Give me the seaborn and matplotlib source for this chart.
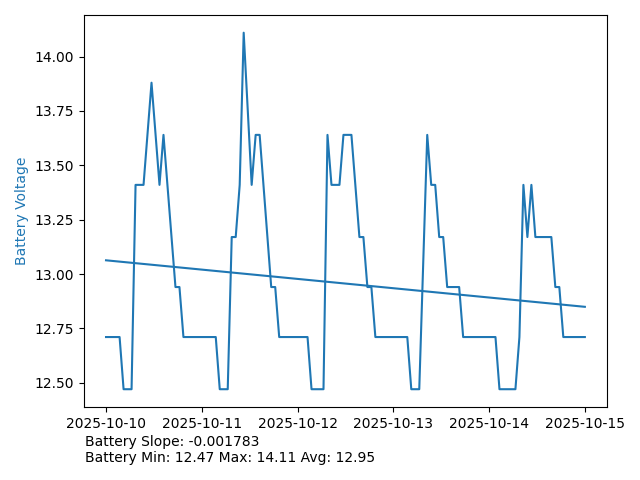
import numpy as np
import pandas as pd
import matplotlib
matplotlib.use("Agg")
import matplotlib.pyplot as plt
import seaborn as sns

# battery readings, hours after 2025-10-10 00:00
hours = [0, 3.4, 4.4, 6.4, 7.4, 9.4, 11.4, 13.4, 14.4, 17.4, 18.4, 19.4,
         27.5, 28.5, 30.5, 31.5, 32.5, 33.5, 34.5, 36.5, 37.5, 38.5,
         41.4, 42.4, 43.4, 50.5, 51.5, 54.5, 55.5, 56.5, 58.5, 59.5,
         61.5, 63.5, 64.5, 65.5, 66.5, 67.5, 75.5, 76.5, 78.5, 80.5,
         81.5, 82.5, 83.5, 84.5, 85.5, 88.5, 89.5, 97.6, 98.6, 102.6,
         103.6, 104.6, 105.6, 106.6, 107.6, 111.6, 112.6, 113.6, 114.6, 120]
voltage = [12.71, 12.71, 12.47, 12.47, 13.41, 13.41, 13.88, 13.41, 13.64, 12.94, 12.94, 12.71,
           12.71, 12.47, 12.47, 13.17, 13.17, 13.41, 14.11, 13.41, 13.64, 13.64,
           12.94, 12.94, 12.71, 12.71, 12.47, 12.47, 13.64, 13.41, 13.41, 13.64,
           13.64, 13.17, 13.17, 12.94, 12.94, 12.71, 12.71, 12.47, 12.47, 13.64,
           13.41, 13.41, 13.17, 13.17, 12.94, 12.94, 12.71, 12.71, 12.47, 12.47,
           12.71, 13.41, 13.17, 13.41, 13.17, 13.17, 12.94, 12.94, 12.71, 12.71]

# trend line (per hour) and summary stats
slope = -0.001783
intercept = 13.063
v_min, v_max, v_avg = 12.47, 14.11, 12.95

start = pd.Timestamp("2025-10-10")
df = pd.DataFrame({
    "time": start + pd.to_timedelta(hours, unit="h"),
    "voltage": voltage,
})
df["trend"] = intercept + slope * np.array(hours)

fig, ax = plt.subplots(figsize=(6.4, 4.8), dpi=100)
sns.lineplot(data=df, x="time", y="voltage", color="tab:blue", ax=ax)
sns.lineplot(data=df, x="time", y="trend", color="tab:blue", ax=ax)
ax.margins(x=0.047)

ax.set_xlabel("")
ax.set_ylabel("Battery Voltage", color="tab:blue")

fig.subplots_adjust(left=0.1305, right=0.949, top=0.969, bottom=0.152)
fig.text(0.133, 0.094, f"Battery Slope: {slope:.6f}", va="top", fontsize=10)
fig.text(0.133, 0.061, f"Battery Min: {v_min:.2f} Max: {v_max:.2f} Avg: {v_avg:.2f}",
         va="top", fontsize=10)

fig.savefig("out.png")
